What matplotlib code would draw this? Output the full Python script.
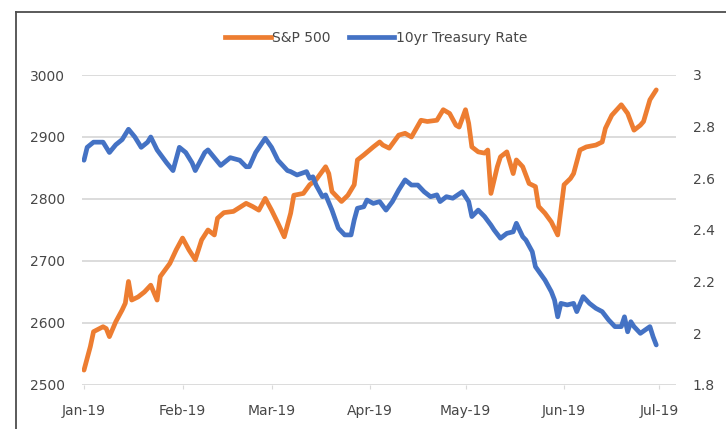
"""
plot.py
S&P 500 against the 10yr Treasury rate, first half of 2019.
"""
import matplotlib
matplotlib.use('Agg')
import matplotlib.pyplot as plt
import matplotlib.dates as mdates
from matplotlib.lines import Line2D
from matplotlib.ticker import FuncFormatter, MultipleLocator
import pandas as pd

# S&P 500 index level (left axis)
sp_days = ['01-01', '01-03', '01-04', '01-07', '01-08', '01-09', '01-11', '01-13',
           '01-14', '01-15', '01-16', '01-18', '01-20', '01-22', '01-24', '01-25',
           '01-28', '01-30', '02-01', '02-03', '02-05', '02-07', '02-09', '02-11',
           '02-12', '02-14', '02-17', '02-21', '02-23', '02-25', '02-27', '03-01',
           '03-03', '03-05', '03-07', '03-08', '03-11', '03-13', '03-15', '03-18',
           '03-19', '03-20', '03-23', '03-25', '03-27', '03-28', '03-30', '04-02',
           '04-04', '04-05', '04-07', '04-10', '04-12', '04-14', '04-17', '04-19',
           '04-22', '04-24', '04-26', '04-28', '04-29', '05-01', '05-02', '05-03',
           '05-05', '05-07', '05-08', '05-09', '05-11', '05-12', '05-14', '05-16',
           '05-17', '05-19', '05-21', '05-23', '05-24', '05-26', '05-28', '05-30',
           '05-31', '06-01', '06-03', '06-04', '06-06', '06-08', '06-11', '06-13',
           '06-14', '06-16', '06-19', '06-21', '06-23', '06-25', '06-26', '06-28',
           '06-30']
sp_values = [2524, 2562, 2586, 2594, 2591, 2578, 2602, 2621,
             2632, 2667, 2637, 2642, 2650, 2661, 2637, 2675,
             2696, 2718, 2737, 2718, 2702, 2734, 2750, 2742,
             2769, 2778, 2780, 2793, 2788, 2782, 2801, 2782,
             2761, 2739, 2777, 2806, 2809, 2823, 2831, 2852,
             2841, 2812, 2796, 2806, 2823, 2863, 2871, 2884,
             2892, 2887, 2882, 2903, 2906, 2900, 2927, 2925,
             2927, 2944, 2938, 2919, 2916, 2944, 2922, 2884,
             2876, 2874, 2879, 2809, 2852, 2868, 2876, 2841,
             2863, 2852, 2825, 2820, 2788, 2777, 2763, 2742,
             2782, 2823, 2833, 2841, 2879, 2884, 2887, 2892,
             2914, 2935, 2952, 2938, 2911, 2919, 2925, 2960,
             2976]

# 10yr Treasury yield, percent (right axis)
tsy_days = ['01-01', '01-02', '01-04', '01-07', '01-09', '01-11', '01-13', '01-15',
            '01-17', '01-19', '01-21', '01-22', '01-24', '01-27', '01-29', '01-31',
            '02-02', '02-04', '02-05', '02-08', '02-09', '02-11', '02-13', '02-16',
            '02-19', '02-21', '02-22', '02-24', '02-27', '03-01', '03-03', '03-06',
            '03-07', '03-09', '03-12', '03-13', '03-14', '03-15', '03-17', '03-18',
            '03-20', '03-22', '03-24', '03-26', '03-27', '03-28', '03-30', '03-31',
            '04-02', '04-04', '04-06', '04-08', '04-10', '04-12', '04-14', '04-16',
            '04-18', '04-20', '04-22', '04-23', '04-25', '04-27', '04-30', '05-02',
            '05-03', '05-05', '05-07', '05-09', '05-10', '05-12', '05-14', '05-16',
            '05-17', '05-19', '05-20', '05-22', '05-23', '05-26', '05-28', '05-29',
            '05-30', '05-31', '06-02', '06-04', '06-05', '06-07', '06-09', '06-11',
            '06-13', '06-15', '06-17', '06-19', '06-20', '06-21', '06-22', '06-23',
            '06-25', '06-28', '06-29', '06-30']
tsy_values = [2.67, 2.72, 2.74, 2.74, 2.70, 2.73, 2.75, 2.79,
              2.76, 2.72, 2.74, 2.76, 2.71, 2.66, 2.63, 2.72,
              2.70, 2.66, 2.63, 2.70, 2.71, 2.68, 2.65, 2.68,
              2.67, 2.645, 2.645, 2.70, 2.755, 2.72, 2.67, 2.63,
              2.626, 2.613, 2.626, 2.60, 2.606, 2.574, 2.529, 2.536,
              2.477, 2.407, 2.381, 2.381, 2.439, 2.484, 2.49, 2.516,
              2.503, 2.51, 2.477, 2.51, 2.555, 2.594, 2.574, 2.574,
              2.548, 2.529, 2.536, 2.51, 2.529, 2.523, 2.548, 2.51,
              2.452, 2.477, 2.452, 2.419, 2.40, 2.368, 2.387, 2.393,
              2.426, 2.374, 2.361, 2.316, 2.258, 2.206, 2.161, 2.129,
              2.064, 2.116, 2.11, 2.116, 2.084, 2.142, 2.116, 2.097,
              2.084, 2.052, 2.026, 2.026, 2.064, 2.006, 2.045, 2.026,
              2.00, 2.026, 1.987, 1.955]

ORANGE = '#ED7D31'
BLUE = '#4472C4'
TEXT = '#474747'
GRID = '#D9D9D9'


def draw():
    sp_dates = pd.to_datetime(['2019-' + d for d in sp_days])
    tsy_dates = pd.to_datetime(['2019-' + d for d in tsy_days])

    plt.rcParams['font.family'] = 'DejaVu Sans'
    plt.rcParams['font.size'] = 10

    fig = plt.figure(figsize=(7.26, 4.29), dpi=100)
    ax = fig.add_axes([82 / 726, 1 - 385 / 429, (676 - 82) / 726, (385 - 75) / 429])
    ax2 = ax.twinx()

    ax.plot(sp_dates, sp_values, color=ORANGE, lw=3.4, solid_joinstyle='round',
            solid_capstyle='round', label='S&P 500')
    ax2.plot(tsy_dates, tsy_values, color=BLUE, lw=3.4, solid_joinstyle='round',
             solid_capstyle='round', label='10yr Treasury Rate')

    ax.set_xlim(pd.Timestamp('2018-12-31 09:00'), pd.Timestamp('2019-07-06 05:00'))
    ax.set_ylim(2500, 3000)
    ax2.set_ylim(1.8, 3.0)

    ax.yaxis.set_major_locator(MultipleLocator(100))
    ax2.yaxis.set_major_locator(MultipleLocator(0.2))
    ax2.yaxis.set_major_formatter(FuncFormatter(lambda v, p: f'{v:g}'))
    ax.xaxis.set_major_locator(mdates.MonthLocator())
    ax.xaxis.set_major_formatter(mdates.DateFormatter('%b-%y'))

    ax.grid(axis='y', color=GRID, lw=1.3)
    ax.set_axisbelow(True)
    for a in (ax, ax2):
        for s in a.spines.values():
            s.set_visible(False)
    ax.tick_params(axis='y', length=0, pad=12, labelcolor=TEXT)
    ax2.tick_params(axis='y', length=0, pad=12, labelcolor=TEXT)
    ax.tick_params(axis='x', length=3, color=GRID, pad=11, labelcolor=TEXT)

    handles = [Line2D([], [], color=ORANGE, lw=3.4),
               Line2D([], [], color=BLUE, lw=3.4)]
    fig.legend(handles, ['S&P 500', '10yr Treasury Rate'], loc='center',
               bbox_to_anchor=(376 / 726, 1 - 38 / 429), ncol=2, frameon=False,
               handlelength=3.3, handletextpad=0.1, columnspacing=1.3,
               labelcolor=TEXT)

    # chart frame along the top and left edges
    fig.add_artist(Line2D([16 / 726, 1], [1 - 12 / 429] * 2, color='#4d4d4d', lw=1.3))
    fig.add_artist(Line2D([16 / 726] * 2, [0, 1 - 12 / 429], color='#4d4d4d', lw=1.3))

    fig.savefig('out.png', dpi=100)


if __name__ == "__main__":
    draw()
